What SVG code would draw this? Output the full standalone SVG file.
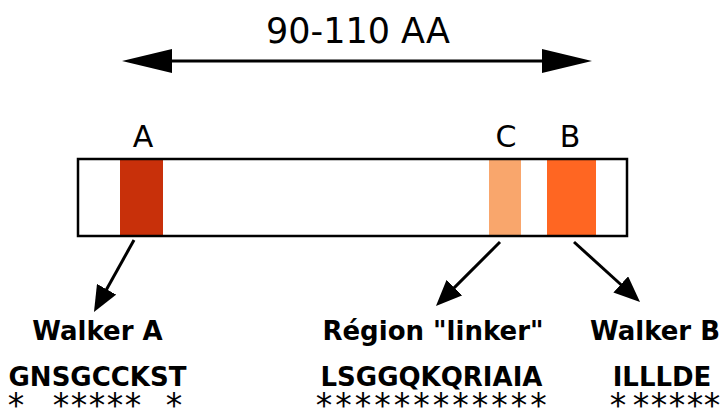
<svg xmlns="http://www.w3.org/2000/svg" width="724" height="410" viewBox="0 0 724 410">
<style>
.t{font-family:"DejaVu Sans",Verdana,sans-serif;fill:#000}
.title{font-size:35px}
.letter{font-size:30px}
.lab{font-size:26px;font-weight:bold}
.star{font-size:33px}
.conn{stroke:#000;stroke-width:3;fill:none}
</style>
<defs>
<marker id="big" viewBox="0 0 50 24" refX="40" refY="12" markerWidth="50" markerHeight="24" markerUnits="userSpaceOnUse" orient="auto-start-reverse">
<path d="M0,0 L50,12 L0,24 z" fill="#000"/>
</marker>
<marker id="small" viewBox="0 0 26 22" refX="6" refY="11" markerWidth="26" markerHeight="22" markerUnits="userSpaceOnUse" orient="auto">
<path d="M0,0 L26,11 L0,22 z" fill="#000"/>
</marker>
</defs>
<rect width="724" height="410" fill="#fff"/>
<g id="length">
<text class="t title" x="358" y="43" text-anchor="middle">90-110 AA</text>
</g>
<g id="protein">
<rect x="78" y="159" width="549" height="77" fill="#fff"/>
<rect id="bandA" x="120" y="159" width="43" height="77" fill="#C8300A"/>
<rect id="bandC" x="489" y="159" width="32" height="77" fill="#F9A66C"/>
<rect id="bandB" x="547" y="159" width="49" height="77" fill="#FF6622"/>
<rect x="78" y="159" width="549" height="77" fill="none" stroke="#000" stroke-width="2.5"/>
<text class="t letter" x="143" y="147" text-anchor="middle">A</text>
<text class="t letter" x="506" y="147" text-anchor="middle">C</text>
<text class="t letter" x="570" y="147" text-anchor="middle">B</text>
</g>
<g id="walkerA">
<text class="t lab" x="97.5" y="340" text-anchor="middle">Walker A</text>
<text class="t lab" x="97.5" y="386" text-anchor="middle">GNSGCCKST</text>
<text class="t star" x="16 61 79 97 115 133 174" y="417" text-anchor="middle">*******</text>
</g>
<g id="linker">
<text class="t lab" x="433" y="340" text-anchor="middle">Région "linker"</text>
<text class="t lab" x="431.5" y="386" text-anchor="middle">LSGGQKQRIAIA</text>
<text class="t star" x="324 343.5 363 382.5 402 421.5 441 460.5 480 499.5 519 538.5" y="417" text-anchor="middle">************</text>
</g>
<g id="walkerB">
<text class="t lab" x="655" y="340" text-anchor="middle">Walker B</text>
<text class="t lab" x="662" y="386" text-anchor="middle">ILLLDE</text>
<text class="t star" x="618 641 659 677 695 712" y="417" text-anchor="middle">******</text>
</g>
<g id="connectors">
<line class="conn" x1="132" y1="61" x2="582" y2="61" marker-start="url(#big)" marker-end="url(#big)"/>
<line class="conn" x1="134" y1="240" x2="103.7" y2="294.5" marker-end="url(#small)"/>
<line class="conn" x1="500" y1="242" x2="450.1" y2="291.9" marker-end="url(#small)"/>
<line class="conn" x1="574" y1="242" x2="625.2" y2="288.5" marker-end="url(#small)"/>
</g>
</svg>
